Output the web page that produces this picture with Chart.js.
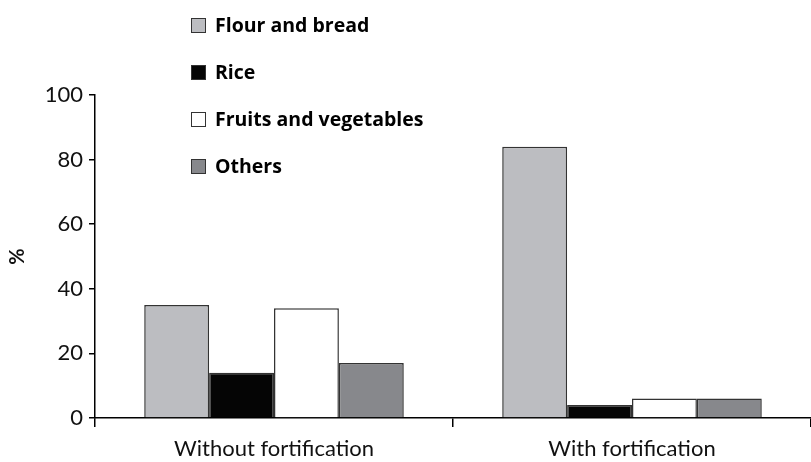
<!DOCTYPE html>
<html lang="en">
<head>
    <meta charset="UTF-8">
    <title>Fortification</title>
    <script src="https://cdn.jsdelivr.net/npm/chart.js"></script>
    <style>
        body { margin: 0; background: #fff; }
        .wrap { position: relative; width: 811px; height: 462px; }
        #legend {
            position: absolute;
            left: 191px;
            top: 12px;
            margin: 0;
            padding: 0;
            list-style: none;
            font-family: "Open Sans", sans-serif;
            font-weight: bold;
            font-size: 19.5px;
            color: #000;
        }
        #legend li { height: 47px; display: flex; align-items: flex-start; }
        #legend span.box {
            display: inline-block;
            width: 13px;
            height: 13px;
            border: 1.5px solid #333;
            margin: 6px 9px 0 0;
        }
        #legend span.txt { line-height: 26px; }
    </style>
</head>
<body>
    <div class="wrap">
        <canvas id="barChart" width="811" height="462"></canvas>
        <ul id="legend"></ul>
    </div>

    <script>
        var categories = ['Without fortification', 'With fortification'];
        var seriesNames = ['Flour and bread', 'Rice', 'Fruits and vegetables', 'Others'];
        var flourBread = [35, 84];
        var rice = [14, 4];
        var fruitsVeg = [34, 6];
        var others = [17, 6];
        var yTicks = [0, 20, 40, 60, 80, 100];

        var colors = ['#bcbdc1', '#050505', '#ffffff', '#87888c'];
        var values = [flourBread, rice, fruitsVeg, others];

        var datasets = seriesNames.map(function (name, i) {
            return {
                label: name,
                data: values[i],
                backgroundColor: colors[i],
                borderColor: '#333',
                borderWidth: 1.5,
                categoryPercentage: 0.725,
                barPercentage: 1
            };
        });

        var barChart = new Chart(document.getElementById('barChart').getContext('2d'), {
            type: 'bar',
            data: { labels: categories, datasets: datasets },
            options: {
                responsive: false,
                animation: false,
                layout: { padding: { top: 95, right: 0, bottom: 0, left: 0 } },
                plugins: {
                    legend: { display: false },
                    tooltip: { enabled: false }
                },
                scales: {
                    x: {
                        grid: {
                            display: true,
                            drawOnChartArea: false,
                            drawTicks: true,
                            tickLength: 9,
                            color: '#000',
                            lineWidth: 1.5
                        },
                        border: { display: true, color: '#000', width: 1.5 },
                        ticks: { color: '#111', font: { family: 'Lato, sans-serif', size: 22 }, padding: 9 },
                        afterFit: function (scale) { scale.height = 44; }
                    },
                    y: {
                        min: 0,
                        max: 100,
                        afterBuildTicks: function (scale) {
                            scale.ticks = yTicks.map(function (v) { return { value: v }; });
                        },
                        grid: {
                            display: true,
                            drawOnChartArea: false,
                            drawTicks: true,
                            tickLength: 6,
                            color: '#000',
                            lineWidth: 1.5
                        },
                        border: { display: true, color: '#000', width: 1.5 },
                        ticks: { color: '#111', font: { family: 'Lato, sans-serif', size: 22 }, padding: 6 },
                        title: {
                            display: true,
                            text: '%',
                            color: '#111',
                            font: { family: 'Lato, sans-serif', size: 20, weight: 'bold' },
                            padding: { top: 6, bottom: 20 }
                        },
                        afterFit: function (scale) { scale.width = 95; }
                    }
                }
            }
        });

        var legend = document.getElementById('legend');
        barChart.data.datasets.forEach(function (ds) {
            var li = document.createElement('li');
            var box = document.createElement('span');
            box.className = 'box';
            box.style.background = ds.backgroundColor;
            var txt = document.createElement('span');
            txt.className = 'txt';
            txt.textContent = ds.label;
            li.appendChild(box);
            li.appendChild(txt);
            legend.appendChild(li);
        });
    </script>
</body>
</html>
